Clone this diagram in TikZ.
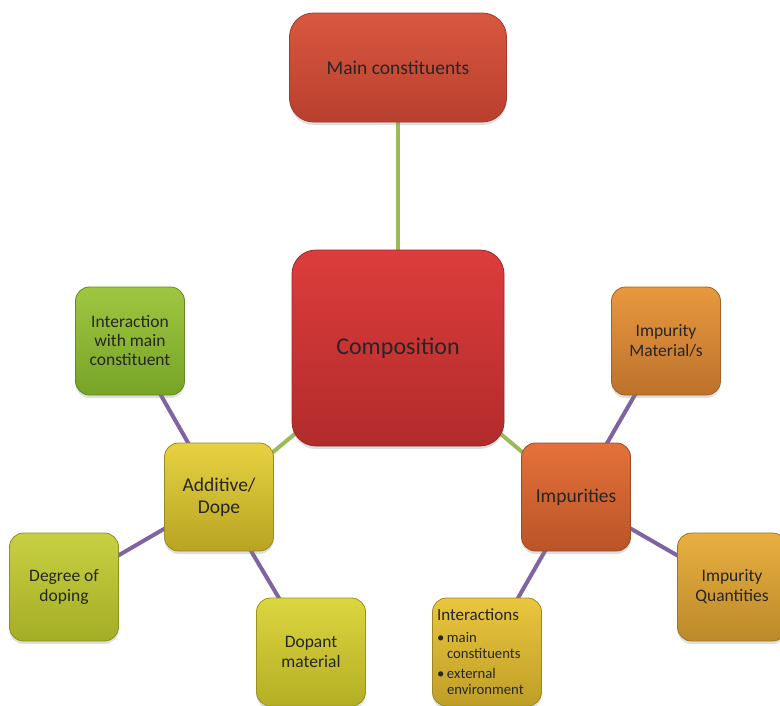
\documentclass[tikz,border=0pt]{standalone}
\usepackage{fontspec}
\setmainfont{Carlito}
\usetikzlibrary{shadows}
\pgfdeclarelayer{links}
\pgfsetlayers{links,main}
\definecolor{txt}{HTML}{262626}
\definecolor{linkgreen}{HTML}{9BBB59}
\definecolor{linkpurple}{HTML}{8064A2}
% box colours: top, bottom, outline
\definecolor{mainT}{HTML}{D9573F}\definecolor{mainB}{HTML}{B9402E}\definecolor{mainD}{HTML}{9E3A2C}
\definecolor{compT}{HTML}{DC3D3C}\definecolor{compB}{HTML}{B22B2B}\definecolor{compD}{HTML}{962828}
\definecolor{addT}{HTML}{E6D241}\definecolor{addB}{HTML}{B8A422}\definecolor{addD}{HTML}{9A8A22}
\definecolor{intT}{HTML}{A0C640}\definecolor{intB}{HTML}{76A426}\definecolor{intD}{HTML}{628A22}
\definecolor{degT}{HTML}{C8D042}\definecolor{degB}{HTML}{A4AE24}\definecolor{degD}{HTML}{88901E}
\definecolor{dopT}{HTML}{DCD640}\definecolor{dopB}{HTML}{B4AE24}\definecolor{dopD}{HTML}{98921E}
\definecolor{impT}{HTML}{E4713A}\definecolor{impB}{HTML}{BA5428}\definecolor{impD}{HTML}{9C4824}
\definecolor{matT}{HTML}{E8983E}\definecolor{matB}{HTML}{BC722C}\definecolor{matD}{HTML}{9E6226}
\definecolor{qtyT}{HTML}{E8AE40}\definecolor{qtyB}{HTML}{BC8A2A}\definecolor{qtyD}{HTML}{9E7424}
\definecolor{ictT}{HTML}{EAC63E}\definecolor{ictB}{HTML}{BE9E26}\definecolor{ictD}{HTML}{A08622}
\tikzset{
  box/.style={rounded corners=14pt, minimum width=109pt, minimum height=108pt,
    align=center, text=txt, inner sep=3pt,
    drop shadow={opacity=0.25, shadow xshift=0pt, shadow yshift=-3pt}},
  bigbox/.style={box, rounded corners=24pt},
  fillc/.style={top color=#1T, bottom color=#1B, draw=#1D, line width=0.8pt},
  greenlink/.style={draw=linkgreen, line width=4pt},
  purplelink/.style={draw=linkpurple, line width=4pt},
  bigtext/.style={font=\fontsize{19.5}{22}\selectfont},
  smalltext/.style={font=\fontsize{17.5}{20}\selectfont},
}
\begin{document}
\begin{tikzpicture}[x=1pt, y=-1pt]
\useasboundingbox (0,0) rectangle (780,705);

% nodes
\node[bigbox, minimum width=217pt, minimum height=109pt, fillc=main, bigtext]
  (main) at (398,67.5) {Main constituents};
\node[bigbox, minimum width=212pt, minimum height=196pt, fillc=comp,
      font=\fontsize{24}{28}\selectfont]
  (comp) at (398,348) {Composition};

\node[box, fillc=add, bigtext]
  (add) at (219,497) {Additive/\\Dope};
\node[box, fillc=int, font=\fontsize{17.5}{19}\selectfont]
  (inter) at (130,341) {Interaction\\with main\\constituent};
\node[box, fillc=deg, smalltext]
  (degree) at (64,587) {Degree of\\doping};
\node[box, fillc=dop, smalltext]
  (dopant) at (311,652) {Dopant\\material};

\node[box, fillc=imp, bigtext]
  (imp) at (576,497) {Impurities};
\node[box, fillc=mat, smalltext]
  (impmat) at (666,341) {Impurity\\Material/s};
\node[box, fillc=qty, smalltext]
  (impqty) at (732,587) {Impurity\\Quantities};
\node[box, fillc=ict, align=left, text width=100pt, inner sep=4pt,
      font=\fontsize{14.7}{16.5}\selectfont]
  (interacts) at (487,652)
  {{\fontsize{17}{19}\selectfont Interactions}\\[5pt]
    \makebox[10pt][l]{\textbullet}main\\
    \hspace*{10pt}constituents\\[3pt]
    \makebox[10pt][l]{\textbullet}external\\
    \hspace*{10pt}environment};

% connectors, behind the boxes
\begin{pgfonlayer}{links}
  \draw[greenlink] (main.center) -- (comp.center);
  \draw[greenlink] (comp.center) -- (add.center);
  \draw[greenlink] (comp.center) -- (imp.center);
  \draw[purplelink] (add.center) -- (inter.center);
  \draw[purplelink] (add.center) -- (degree.center);
  \draw[purplelink] (add.center) -- (dopant.center);
  \draw[purplelink] (imp.center) -- (impmat.center);
  \draw[purplelink] (imp.center) -- (impqty.center);
  \draw[purplelink] (imp.center) -- (interacts.center);
\end{pgfonlayer}
\end{tikzpicture}
\end{document}
